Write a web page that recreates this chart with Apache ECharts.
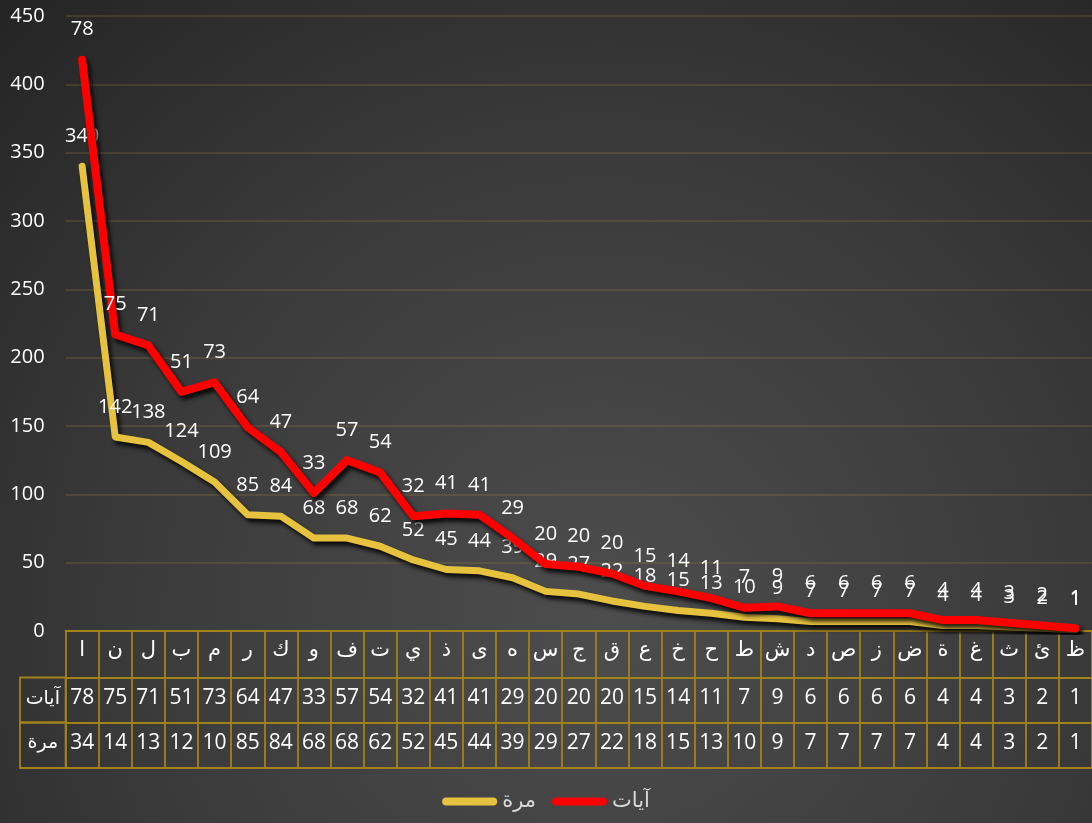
<!DOCTYPE html>
<html>
<head>
<meta charset="utf-8">
<script src="https://cdn.jsdelivr.net/npm/echarts@6/dist/echarts.min.js"></script>
<style>
html,body{margin:0;padding:0;background:#2a2a2a;}
#c{width:1092px;height:823px;}
</style>
</head>
<body>
<div id="c"></div>
<script>
const categories = ['ا','ن','ل','ب','م','ر','ك','و','ف','ت','ي','ذ','ى','ه','س','ج','ق','ع','خ','ح','ط','ش','د','ص','ز','ض','ة','غ','ث','ئ','ظ'];
const ayat = [78,75,71,51,73,64,47,33,57,54,32,41,41,29,20,20,20,15,14,11,7,9,6,6,6,6,4,4,3,2,1];
const marra = [340,142,138,124,109,85,84,68,68,62,52,45,44,39,29,27,22,18,15,13,10,9,7,7,7,7,4,4,3,2,1];
const seriesNames = ['مرة','آيات'];
const yTicks = {min:0, max:450, interval:50};

const FONT = '"Open Sans", "DejaVu Sans", sans-serif';
const GOLD = '#a3821a';
const YELLOW = '#E6C23F';
const RED = '#FF0000';

// table rows show text clipped to the column width (2 characters)
const ayatText = ayat.map(v => String(v).slice(0,2));
const marraText = marra.map(v => String(v).slice(0,2));

const chart = echarts.init(document.getElementById('c'));

function tableAxis(data, offset, showLabel, tickLen, margin) {
  return {
    type:'category', data:data, position:'bottom', offset:offset, boundaryGap:true,
    axisLine:{show:true, lineStyle:{color:GOLD, width:1.8}},
    axisTick:{show:tickLen>0, interval:0, length:tickLen, alignWithLabel:false, lineStyle:{color:GOLD, width:1.8}},
    axisLabel:{show:showLabel, interval:0, color:'#ffffff', fontSize:21, fontFamily:FONT, margin:margin},
    splitLine:{show:false}
  };
}

const lineShadow = {shadowColor:'rgba(0,0,0,0.85)', shadowBlur:4, shadowOffsetX:3, shadowOffsetY:4};

chart.setOption({
  backgroundColor:{
    type:'radial', x:0.55, y:0.75, r:1.05,
    colorStops:[{offset:0,color:'#4d4d4d'},{offset:0.55,color:'#3a3a3a'},{offset:1,color:'#242424'}]
  },
  animation:false,
  textStyle:{fontFamily:FONT},
  grid:{left:65.6, right:-5.9, top:16, bottom:192, containLabel:false},
  legend:{
    data:seriesNames, bottom:6, left:'center',
    itemWidth:55, itemHeight:8, itemGap:16,
    icon:'path://M4,0 L51,0 A4,4 0 0 1 51,8 L4,8 A4,4 0 0 1 4,0 Z',
    textStyle:{color:'#d9d9d9', fontSize:21, fontFamily:FONT}
  },
  xAxis:[
    tableAxis(categories, 0, true, 46, 9),
    tableAxis(ayatText, 46.5, true, 45, 10),
    tableAxis(marraText, 91.5, true, 45.5, 10),
    tableAxis(categories, 137, false, 0, 10)
  ],
  yAxis:{
    type:'value', min:yTicks.min, max:yTicks.max, interval:yTicks.interval,
    axisLine:{show:false}, axisTick:{show:false},
    axisLabel:{color:'#ffffff', fontSize:20, fontFamily:FONT, margin:21},
    splitLine:{lineStyle:{color:'rgba(150,130,60,0.32)', width:1.5}}
  },
  series:[
    {
      name:seriesNames[0], type:'line', stack:'total', data:marra, xAxisIndex:0,
      symbol:'circle', symbolSize:0, showSymbol:true,
      itemStyle:{color:YELLOW},
      lineStyle:Object.assign({color:YELLOW, width:7, cap:'round', join:'round'}, lineShadow),
      label:{show:true, position:'top', distance:20, color:'#ffffff', fontSize:20, fontFamily:FONT},
      emphasis:{disabled:true}, z:2
    },
    {
      name:seriesNames[1], type:'line', stack:'total', data:ayat, xAxisIndex:0,
      symbol:'circle', symbolSize:0, showSymbol:true,
      itemStyle:{color:RED},
      lineStyle:Object.assign({color:RED, width:8, cap:'round', join:'round'}, lineShadow),
      label:{show:true, position:'top', distance:20, color:'#ffffff', fontSize:20, fontFamily:FONT},
      emphasis:{disabled:true}, z:3
    }
  ],
  graphic:[
    {type:'rect', shape:{x:20, y:677.5, width:45.6, height:45}, style:{fill:'none', stroke:GOLD, lineWidth:1.8}},
    {type:'rect', shape:{x:20, y:722.5, width:45.6, height:45.5}, style:{fill:'none', stroke:GOLD, lineWidth:1.8}},
    {type:'text', x:42.8, y:699, style:{text:seriesNames[1], fill:'#ffffff', font:'19px "Open Sans","DejaVu Sans",sans-serif', align:'center', verticalAlign:'middle'}},
    {type:'text', x:42.8, y:743, style:{text:seriesNames[0], fill:'#ffffff', font:'19px "Open Sans","DejaVu Sans",sans-serif', align:'center', verticalAlign:'middle'}}
  ]
});
</script>
</body>
</html>
